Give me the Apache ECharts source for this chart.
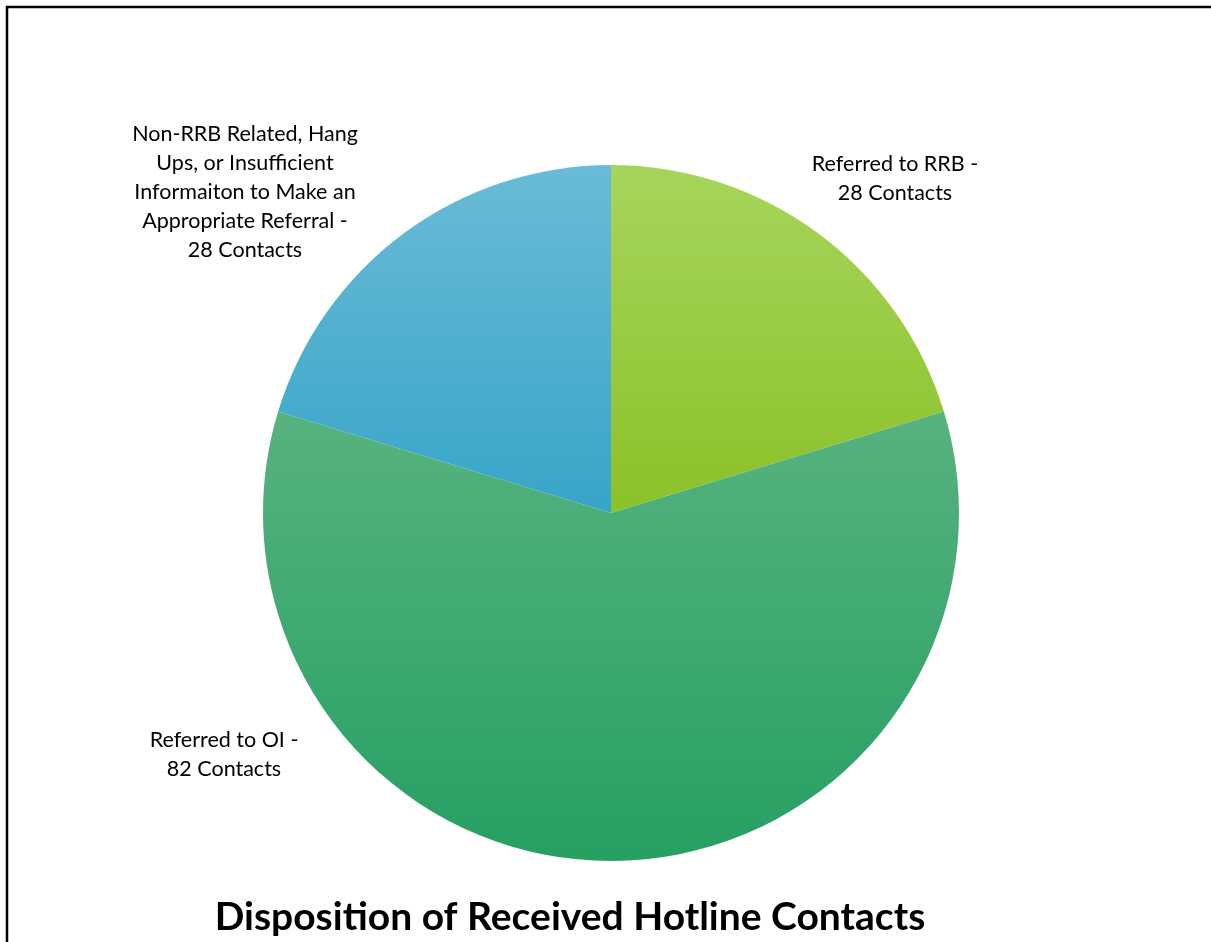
<!DOCTYPE html>
<html>
<head>
<meta charset="utf-8">
<script src="https://cdn.jsdelivr.net/npm/echarts@6/dist/echarts.min.js"></script>
<style>
  html, body { margin: 0; padding: 0; background: #fff; }
  #chart { width: 1211px; height: 942px; }
</style>
</head>
<body>
<div id="chart"></div>
<script>
var categories = [
    'Referred to RRB -\n28 Contacts',
    'Referred to OI -\n82 Contacts',
    'Non-RRB Related, Hang\nUps, or Insufficient\nInformaiton to Make an\nAppropriate Referral -\n28 Contacts'
];
var contacts = [28, 82, 28];

// top / bottom colour of each slice gradient
var sliceColors = [
    ['#a7d55c', '#8bc128'],
    ['#57b280', '#26a062'],
    ['#6abbd6', '#37a5c8']
];
// where the labels sit (centre of the text block)
var labelSpots = [
    { x: 895, y: 179 },
    { x: 224, y: 755 },
    { x: 245, y: 192 }
];

var chart = echarts.init(document.getElementById('chart'));

var pieData = [];
for (var i = 0; i < contacts.length; i++) {
    pieData.push({
        name: categories[i],
        value: contacts[i],
        itemStyle: {
            color: new echarts.graphic.LinearGradient(0, 0, 0, 1, [
                { offset: 0, color: sliceColors[i][0] },
                { offset: 1, color: sliceColors[i][1] }
            ])
        }
    });
}

chart.setOption({
    animation: false,
    title: {
        text: 'Disposition of Received Hotline Contacts',
        left: 565,
        top: 893,
        textAlign: 'center',
        textStyle: {
            fontFamily: 'Lato',
            fontWeight: 'bold',
            fontSize: 39,
            color: '#000'
        }
    },
    graphic: [{
        type: 'polyline',
        shape: { points: [[7, 942], [7, 7], [1211, 7]] },
        style: { stroke: '#000', lineWidth: 2.5, fill: null }
    }],
    series: [{
        type: 'pie',
        center: [611, 513],
        radius: 348,
        startAngle: 90,
        clockwise: true,
        data: pieData,
        itemStyle: { borderWidth: 0 },
        emphasis: { disabled: true },
        label: {
            show: true,
            position: 'outside',
            formatter: '{b}',
            fontFamily: 'Lato',
            fontSize: 21.5,
            lineHeight: 29,
            color: '#000',
            align: 'center'
        },
        labelLine: { show: false },
        labelLayout: function (params) {
            var spot = labelSpots[params.dataIndex];
            return {
                x: spot.x,
                y: spot.y,
                align: 'center',
                verticalAlign: 'middle'
            };
        }
    }]
});
</script>
</body>
</html>
